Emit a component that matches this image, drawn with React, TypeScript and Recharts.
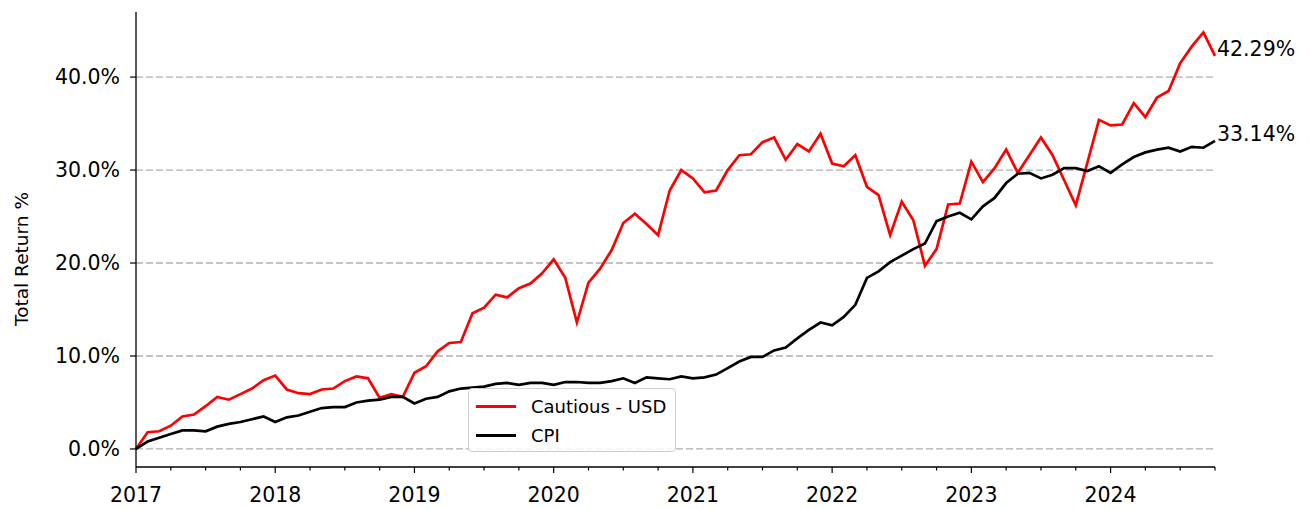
import { LineChart, Line, XAxis, YAxis, CartesianGrid, Legend } from "recharts";

// monthly total return %, Jan 2017 .. Oct 2024
const cautious = [
  0.0, 1.8, 1.9, 2.5, 3.5, 3.7, 4.6, 5.6, 5.3, 5.9, 6.5, 7.4,
  7.9, 6.4, 6.0, 5.9, 6.4, 6.5, 7.3, 7.8, 7.6, 5.5, 5.9, 5.6,
  8.2, 8.9, 10.5, 11.4, 11.5, 14.6, 15.2, 16.6, 16.3, 17.3, 17.8, 18.9,
  20.4, 18.4, 13.6, 17.9, 19.4, 21.4, 24.3, 25.3, 24.2, 23.0, 27.8, 30.0,
  29.1, 27.6, 27.8, 30.0, 31.6, 31.7, 33.0, 33.5, 31.1, 32.8, 32.0, 33.9,
  30.7, 30.4, 31.6, 28.2, 27.3, 23.0, 26.6, 24.6, 19.7, 21.5, 26.3, 26.4,
  30.9, 28.7, 30.2, 32.2, 29.7, 31.6, 33.5, 31.6, 28.9, 26.2, 30.8, 35.4,
  34.8, 34.9, 37.2, 35.7, 37.8, 38.5, 41.5, 43.3, 44.8, 42.29,
];

const cpi = [
  0.0, 0.8, 1.2, 1.6, 2.0, 2.0, 1.9, 2.4, 2.7, 2.9, 3.2, 3.5,
  2.9, 3.4, 3.6, 4.0, 4.4, 4.5, 4.5, 5.0, 5.2, 5.3, 5.6, 5.6,
  4.9, 5.4, 5.6, 6.2, 6.5, 6.6, 6.7, 7.0, 7.1, 6.9, 7.1, 7.1,
  6.9, 7.2, 7.2, 7.1, 7.1, 7.3, 7.6, 7.1, 7.7, 7.6, 7.5, 7.8,
  7.6, 7.7, 8.0, 8.7, 9.4, 9.9, 9.9, 10.6, 10.9, 11.9, 12.8, 13.6,
  13.3, 14.2, 15.5, 18.4, 19.1, 20.1, 20.8, 21.5, 22.1, 24.5, 25.0, 25.4,
  24.7, 26.1, 27.0, 28.6, 29.6, 29.7, 29.1, 29.5, 30.2, 30.2, 29.9, 30.4,
  29.7, 30.6, 31.4, 31.9, 32.2, 32.4, 32.0, 32.5, 32.4, 33.14,
];

const yearLabels = ["2017", "2018", "2019", "2020", "2021", "2022", "2023", "2024"];
const yTicks = [0, 10, 20, 30, 40];
const seriesNames = ["Cautious - USD", "CPI"];
const seriesColors = ["#ff0000", "#000000"];

const data = cautious.map((v, i) => ({ m: i, cautious: v, cpi: cpi[i] }));
const lastIdx = data.length - 1;
// quarterly ticks, labels only on January
const xTicks = data.filter((d) => d.m % 3 === 0).map((d) => d.m);

const FONT = "DejaVu Sans";
const FS = 20.5;

function XTick(props: any) {
  const { x, y, payload } = props;
  const major = payload.value % 12 === 0;
  return (
    <g>
      <line x1={x} x2={x} y1={y} y2={y + (major ? 6 : 3.5)} stroke="#000" strokeWidth={1.2} />
      {major && (
        <text x={x} y={y + 35} textAnchor="middle" fontSize={FS} fill="#000" fontFamily={FONT}>
          {yearLabels[payload.value / 12]}
        </text>
      )}
    </g>
  );
}

function YTick(props: any) {
  const { x, y, payload } = props;
  return (
    <g>
      <line x1={x - 6} x2={x} y1={y} y2={y} stroke="#000" strokeWidth={1.2} />
      <text x={x - 16} y={y + 7} textAnchor="end" fontSize={FS} fill="#000" fontFamily={FONT}>
        {payload.value.toFixed(1) + "%"}
      </text>
    </g>
  );
}

const endLabel = (props: any) => {
  const { x, y, index, value } = props;
  if (index !== lastIdx) return null;
  return (
    <text x={x + 2} y={y} fontSize={FS} fill="#000" fontFamily={FONT}>
      {Number(value).toFixed(2) + "%"}
    </text>
  );
};

const yLabel = () => (
  <text
    transform="translate(21,259) rotate(-90)"
    textAnchor="middle"
    dominantBaseline="central"
    fontSize={18.5}
    fill="#000"
    fontFamily={FONT}
  >
    Total Return %
  </text>
);

function LegendBox() {
  return (
    <div
      style={{
        width: 208,
        height: 64,
        background: "rgba(255,255,255,0.85)",
        border: "1px solid #d0d0d0",
        borderRadius: 4,
        boxSizing: "border-box",
        fontFamily: FONT,
        fontSize: 18,
        color: "#000",
      }}
    >
      {seriesNames.map((n, i) => (
        <div key={n} style={{ display: "flex", alignItems: "center", height: 29, marginTop: i === 0 ? 3 : 0 }}>
          <div style={{ width: 40, height: 3, background: seriesColors[i], marginLeft: 7, marginRight: 15 }} />
          <span>{n}</span>
        </div>
      ))}
    </div>
  );
}

export default function App() {
  return (
    <div style={{ position: "absolute", left: 0, top: 0, fontFamily: FONT }}>
      <LineChart width={1309} height={509} data={data} margin={{ top: 12, right: 94, bottom: 0, left: 0 }}>
        <CartesianGrid
          vertical={false}
          horizontalValues={yTicks}
          stroke="#b0b0b0"
          strokeDasharray="7 3"
          strokeWidth={1.3}
        />
        <XAxis
          dataKey="m"
          type="number"
          domain={[0, 93]}
          ticks={xTicks}
          interval={0}
          tick={<XTick />}
          tickLine={false}
          tickSize={0}
          tickMargin={0}
          height={42}
          axisLine={{ stroke: "#000", strokeWidth: 1.3 }}
        />
        <YAxis
          type="number"
          domain={[-1.94, 47]}
          ticks={yTicks}
          interval={0}
          width={136}
          tick={<YTick />}
          tickLine={false}
          tickSize={0}
          tickMargin={0}
          axisLine={{ stroke: "#000", strokeWidth: 1.3 }}
          label={yLabel}
        />
        <Legend
          layout="vertical"
          align="center"
          verticalAlign="middle"
          wrapperStyle={{ position: "absolute", left: 468, top: 388, width: 208 }}
          content={() => <LegendBox />}
        />
        <Line
          dataKey="cautious"
          name={seriesNames[0]}
          type="linear"
          stroke={seriesColors[0]}
          strokeWidth={2.7}
          dot={false}
          isAnimationActive={false}
          label={endLabel}
        />
        <Line
          dataKey="cpi"
          name={seriesNames[1]}
          type="linear"
          stroke={seriesColors[1]}
          strokeWidth={2.7}
          dot={false}
          isAnimationActive={false}
          label={endLabel}
        />
      </LineChart>
    </div>
  );
}
